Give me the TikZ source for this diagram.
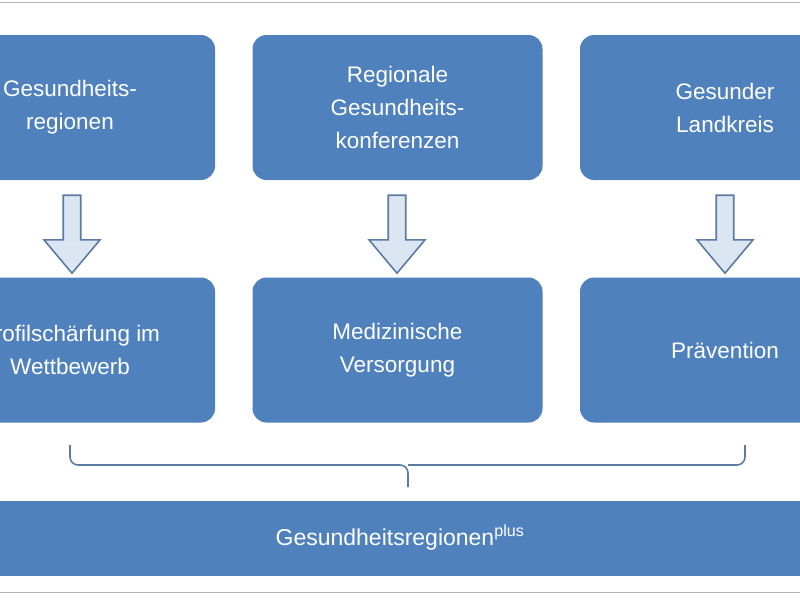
\documentclass[tikz,border=0pt]{standalone}
\usepackage{fontspec}
\setmainfont{Liberation Sans}
\usetikzlibrary{shapes.arrows,decorations.pathreplacing}
\definecolor{boxblue}{HTML}{4F81BD}
\definecolor{arrfill}{HTML}{DCE6F2}
\definecolor{arrline}{HTML}{5B7BA5}
\begin{document}
\begin{tikzpicture}[x=1pt,y=-1pt,
  box/.style={draw=none,fill=boxblue,rounded corners=14pt,text=white,font=\fontsize{22.5}{33}\selectfont,align=center,minimum width=290pt,minimum height=145pt,inner sep=0pt},
  darr/.style={single arrow,draw=arrline,line width=1.6pt,fill=arrfill,minimum width=56pt,single arrow head extend=15pt,single arrow tip angle=80,single arrow head indent=0pt,minimum height=78pt,inner sep=6pt,shape border rotate=270}]
\useasboundingbox (0,0) rectangle (800,600);
\fill[white] (0,0) rectangle (800,600);
\clip (0,0) rectangle (800,600);
\draw[gray!60,line width=1pt] (0,2) -- (800,2) (0,592) -- (800,592);
\node[box] (t1) at (70,107.5) {Gesundheits-\\regionen};
\node[box] (t2) at (397.5,107.5) {Regionale\\Gesundheits-\\konferenzen};
\node[box] (t3) at (725,107.5) {Gesunder\\Landkreis};
\node[box] (b1) at (70,350) {Profilschärfung im\\Wettbewerb};
\node[box] (b2) at (397.5,350) {Medizinische\\Versorgung};
\node[box] (b3) at (725,350) {Prävention};
\node[darr] (a1) at (72,229) {};
\node[darr] (a2) at (397,229) {};
\node[darr] (a3) at (725,229) {};
\node[fill=boxblue,minimum width=820pt,minimum height=75pt,text=white,font=\fontsize{23}{28}\selectfont] (bar) at (400,538) {Gesundheitsregionen\textsuperscript{plus}};
\coordinate (bl) at (70,445);
\coordinate (br) at (745,445);
\draw[arrline,line width=1.6pt,rounded corners=8pt] (bl) -- (70,465) -- (408,465) -- (408,487) (408,465) -- (745,465) -- (br);
\end{tikzpicture}
\end{document}
